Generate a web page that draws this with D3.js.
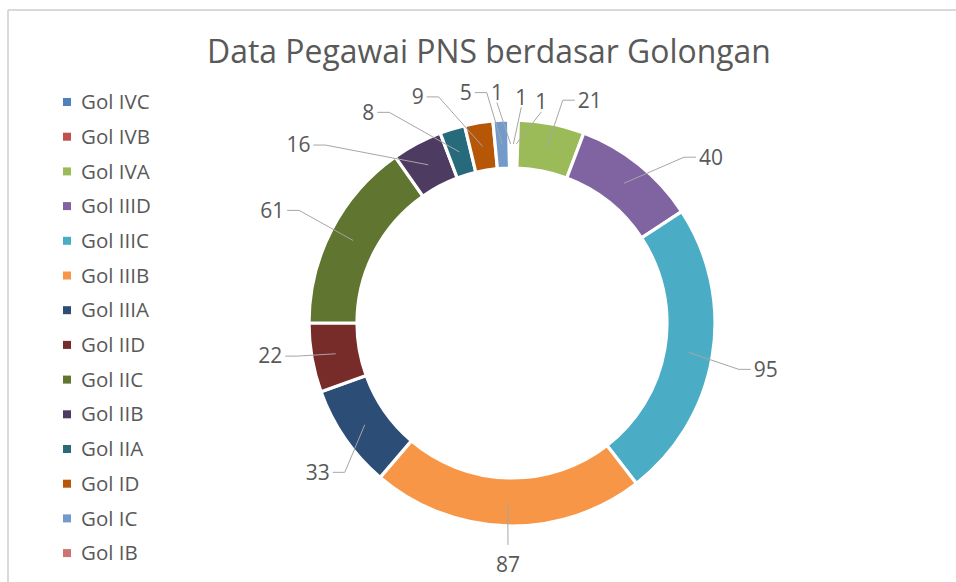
<!DOCTYPE html>
<html>
<head>
<meta charset="utf-8">
<script src="https://cdn.jsdelivr.net/npm/d3@7"></script>
<style>
  body { margin: 0; background: #fff; }
  text { font-family: "Open Sans", sans-serif; fill: #595959; }
</style>
</head>
<body>
<svg></svg>
<script>
// chart data
var categories = ["Gol IVC", "Gol IVB", "Gol IVA", "Gol IIID", "Gol IIIC", "Gol IIIB", "Gol IIIA",
    "Gol IID", "Gol IIC", "Gol IIB", "Gol IIA", "Gol ID", "Gol IC", "Gol IB"];
var values = [1, 1, 21, 40, 95, 87, 33, 22, 61, 16, 8, 9, 5, 1];
var colors = ["#4f81bd", "#c0504d", "#9bbb59", "#8064a2", "#4bacc6", "#f79646", "#2c4d75",
    "#772c2a", "#5f7530", "#4d3b62", "#276a7c", "#b65708", "#729aca", "#cd7371"];
var title = "Data Pegawai PNS berdasar Golongan";

// label placement nudges (degrees off the slice middle, distance from centre)
var labelNudge = [[1.9, 226], [6.2, 223], [8, 236], [11.5, 259], [0.9, 258], [-0.4, 242], [-2.9, 245],
    [2.1, 244], [-2.3, 265], [-22.3, 278], [-17.2, 255], [-13.2, 245], [-8.2, 235], [-3.3, 231]];

var svgWidth = 956, svgHeight = 582;
var svg = d3.select("svg")
    .attr("width", svgWidth)
    .attr("height", svgHeight);

// frame (top and left edges only visible)
svg.append("line")
    .attr("x1", 8).attr("y1", 10).attr("x2", svgWidth).attr("y2", 10)
    .attr("stroke", "#d9d9d9").attr("stroke-width", 2);
svg.append("line")
    .attr("x1", 8).attr("y1", 10).attr("x2", 8).attr("y2", svgHeight)
    .attr("stroke", "#d9d9d9").attr("stroke-width", 2);

// title, fitted to the width it has in the picture
var titleText = svg.append("text")
    .attr("x", 489)
    .attr("y", 63)
    .attr("text-anchor", "middle")
    .style("font-size", "30px")
    .text(title);
var tw = titleText.node().getComputedTextLength();
titleText.style("font-size", (30 * 564 / tw) + "px");

// legend
var legend = svg.append("g")
    .attr("transform", "translate(63,102)");
var item = legend.selectAll("g")
    .data(categories)
    .enter()
    .append("g")
    .attr("transform", (d, i) => "translate(0," + (i * 34.7) + ")");
item.append("rect")
    .attr("x", 0).attr("y", -4)
    .attr("width", 8).attr("height", 8)
    .attr("fill", (d, i) => colors[i]);
item.append("text")
    .attr("x", 18)
    .attr("dy", "0.35em")
    .style("font-size", "20.5px")
    .text(d => d);

// donut
var cx = 512, cy = 323, outerR = 203, innerR = 155;
var g = svg.append("g").attr("transform", "translate(" + cx + "," + cy + ")");

var pie = d3.pie().sort(null).value(d => d)
    .startAngle(0).endAngle(2 * Math.PI);
var arcs = pie(values);
var arc = d3.arc().innerRadius(innerR).outerRadius(outerR);

g.selectAll("path.slice")
    .data(arcs)
    .enter()
    .append("path")
    .attr("class", "slice")
    .attr("d", arc)
    .attr("fill", (d, i) => colors[i])
    .attr("stroke", "#fff")
    .attr("stroke-width", 3.2)
    .attr("stroke-linejoin", "miter");

// data labels with leader lines
var midR = (innerR + outerR) / 2;
function polar(a, r) { return [r * Math.sin(a), -r * Math.cos(a)]; }

var labels = g.append("g");
arcs.forEach(function (d, i) {
    var mid = (d.startAngle + d.endAngle) / 2;
    var start = polar(mid, midR);
    var la = mid + labelNudge[i][0] * Math.PI / 180;
    var pos = polar(la, labelNudge[i][1]);

    var t = labels.append("text")
        .attr("x", pos[0])
        .attr("y", pos[1])
        .attr("dy", "0.35em")
        .attr("text-anchor", "middle")
        .style("font-size", "21px")
        .text(values[i]);
    var w = t.node().getComputedTextLength();

    var pts;
    var dx = pos[0] - start[0];
    if (Math.abs(dx) < 30) {
        // straight to the text top or bottom
        var ey = pos[1] > start[1] ? pos[1] - 20 : pos[1] + 10;
        pts = [start, [pos[0], ey]];
    } else if (dx > 0) {
        var ex = pos[0] - w / 2 - 3;
        pts = [start, [ex - 12, pos[1]], [ex, pos[1]]];
    } else {
        var ex2 = pos[0] + w / 2 + 3;
        pts = [start, [ex2 + 12, pos[1]], [ex2, pos[1]]];
    }
    labels.insert("path", "text")
        .attr("d", d3.line()(pts))
        .attr("fill", "none")
        .attr("stroke", "#a6a6a6")
        .attr("stroke-width", 1);
});
</script>
</body>
</html>
